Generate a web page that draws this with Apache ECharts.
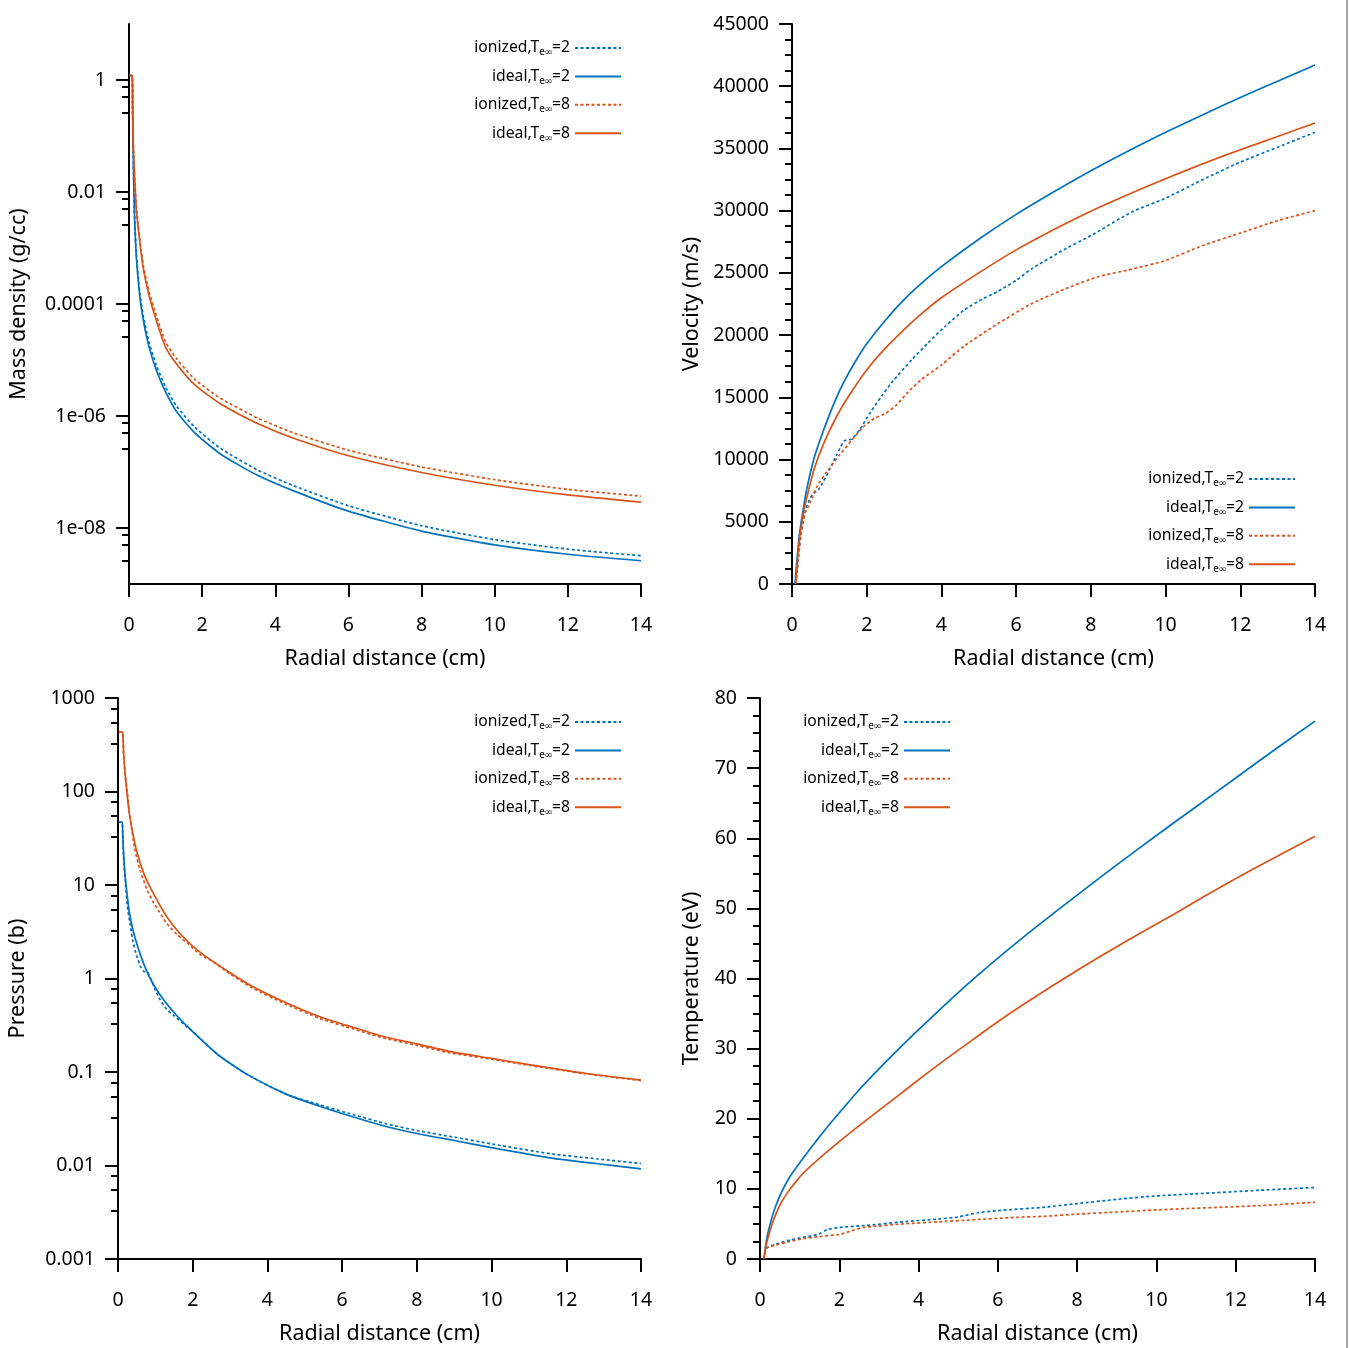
<!DOCTYPE html>
<html><head><meta charset="utf-8">
<script src="https://cdn.jsdelivr.net/npm/echarts@6/dist/echarts.min.js"></script>
<style>html,body{margin:0;padding:0;background:#fff}#c{width:1349px;height:1348px}</style>
</head><body><div id="c"></div><script>
const FONT = 'Noto Sans';
const C_BLUE = '#0072bd', C_ORANGE = '#d95319';
const seriesNames = ['ionized,Te∞=2', 'ideal,Te∞=2', 'ionized,Te∞=8', 'ideal,Te∞=8'];
const legendParts = [['ionized,T', 'e∞', '=2'], ['ideal,T', 'e∞', '=2'], ['ionized,T', 'e∞', '=8'], ['ideal,T', 'e∞', '=8']];
const xAxisTitle = 'Radial distance (cm)';
const yTitles = ['Mass density (g/cc)', 'Velocity (m/s)', 'Pressure (b)', 'Temperature (eV)'];

const densityTickValues = [1e-8, 1e-6, 1e-4, 1e-2, 1];
const densityTickLabels = ['1e-08', '1e-06', '0.0001', '0.01', '1'];
const pressureTickValues = [0.001, 0.01, 0.1, 1, 10, 100, 1000];
const pressureTickLabels = ['0.001', '0.01', '0.1', '1', '10', '100', '1000'];

// Mass density (g/cc)
const densityIonized2 = [[0.02,1.2],[0.09,1.2],[0.1,0.25],[0.12,0.032],[0.15,4.4e-3],[0.2,8e-4],[0.3,1.5e-4],[0.4,5.7e-5],[0.55,2.05e-5],[0.75,8e-6],[1,3.3e-6],[1.3,1.5e-6],[1.8,6.3e-7],[2.5,2.65e-7],[3.5,1.1e-7],[4.5,5.7e-8],[6,2.5e-8],[8,1.1e-8],[10,6.2e-9],[12,4.2e-9],[14,3.2e-9]];
const densityIdeal2 = [[0.02,1.2],[0.09,1.2],[0.1,0.25],[0.12,0.03],[0.15,4e-3],[0.2,7e-4],[0.3,1.3e-4],[0.4,4.8e-5],[0.55,1.7e-5],[0.75,6.5e-6],[1,2.7e-6],[1.3,1.2e-6],[1.8,5e-7],[2.5,2.1e-7],[3.5,8.8e-8],[4.5,4.6e-8],[6,2e-8],[8,8.8e-9],[10,5e-9],[12,3.4e-9],[14,2.6e-9]];
const densityIonized8 = [[0.02,1.2],[0.09,1.2],[0.1,0.3],[0.12,0.065],[0.15,0.022],[0.2,5.6e-3],[0.3,1.35e-3],[0.4,4.6e-4],[0.55,1.65e-4],[0.75,6.1e-5],[1,2.1e-5],[1.3,1.06e-5],[1.8,4.5e-6],[2.5,2.07e-6],[3.5,9.3e-7],[4.5,5e-7],[6,2.45e-7],[8,1.23e-7],[10,7.3e-8],[12,4.9e-8],[14,3.7e-8]];
const densityIdeal8 = [[0.02,1.2],[0.09,1.2],[0.1,0.3],[0.12,0.06],[0.15,0.02],[0.2,5e-3],[0.3,1.2e-3],[0.4,4e-4],[0.55,1.4e-4],[0.75,5e-5],[1,1.7e-5],[1.3,8.5e-6],[1.8,3.6e-6],[2.5,1.65e-6],[3.5,7.4e-7],[4.5,4e-7],[6,1.95e-7],[8,9.8e-8],[10,5.8e-8],[12,3.9e-8],[14,2.9e-8]];

// Velocity (m/s)
const velocityIonized2 = [[0.1,0],[0.15,1500],[0.25,4200],[0.4,6300],[0.55,7200],[0.7,7550],[0.85,8300],[1.0,9150],[1.2,10400],[1.4,11500],[1.6,11650],[1.8,12350],[2.1,13800],[2.4,15100],[2.7,16300],[3.2,18000],[3.65,19400],[4.1,20700],[4.6,22000],[5.1,22900],[5.5,23500],[6,24400],[6.4,25300],[7.3,26900],[8,28000],[9.1,29900],[10,31000],[11,32500],[12,33900],[13,35100],[14,36300]];
const velocityIdeal2 = [[0.08,0],[0.12,1500],[0.2,4000],[0.3,6000],[0.4,7700],[0.6,10200],[0.85,12400],[1.15,14700],[1.4,16300],[1.7,17900],[2,19300],[2.5,21200],[3,22850],[3.5,24250],[4,25500],[5,27700],[6,29700],[7,31500],[8,33200],[9,34800],[10,36300],[11,37700],[12,39100],[13,40400],[14,41700]];
const velocityIonized8 = [[0.1,0],[0.15,1500],[0.25,4300],[0.35,5700],[0.48,6500],[0.66,7800],[0.93,9000],[1.28,10400],[1.6,11550],[1.9,12600],[2.2,13300],[2.5,13700],[2.8,14400],[3.1,15400],[3.45,16400],[4,17600],[4.6,19100],[5.5,20900],[6.4,22500],[7.3,23700],[8.2,24700],[9.1,25300],[10,26000],[11,27200],[12,28200],[13,29200],[14,30000]];
const velocityIdeal8 = [[0.1,0],[0.14,1600],[0.2,3600],[0.3,5600],[0.4,7000],[0.6,9300],[0.85,11300],[1.2,13500],[1.55,15250],[2,17200],[2.5,18950],[3,20450],[3.5,21800],[4,23000],[5,25000],[6,26850],[7,28470],[8,29960],[9,31300],[10,32570],[11,33770],[12,34900],[13,35960],[14,37050]];

// Pressure (b)
const pressureIonized2 = [[0.02,47],[0.11,47],[0.13,30],[0.16,17],[0.19,12],[0.25,6],[0.32,3.9],[0.4,2.5],[0.5,1.75],[0.6,1.35],[0.68,1.2],[0.8,1.15],[0.9,0.95],[1.0,0.75],[1.12,0.6],[1.3,0.47],[1.5,0.4],[1.8,0.315],[2,0.27],[2.7,0.15],[3.5,0.092],[4.5,0.058],[5.4,0.0445],[6.3,0.035],[7.2,0.0278],[8,0.0237],[9,0.0201],[10,0.017],[11.6,0.0133],[12.8,0.0118],[14,0.0105]];
const pressureIdeal2 = [[0.02,47],[0.11,47],[0.13,32],[0.16,18],[0.2,11.5],[0.25,7.5],[0.3,5.2],[0.4,3.3],[0.55,2.05],[0.7,1.4],[0.85,1.02],[1.05,0.74],[1.3,0.54],[1.6,0.39],[2,0.27],[2.7,0.15],[3.5,0.092],[4.5,0.058],[5.4,0.043],[6.3,0.033],[7.2,0.026],[8,0.022],[9,0.0185],[10,0.0155],[11.6,0.012],[12.8,0.0105],[14,0.0092]];
const pressureIonized8 = [[0.02,435],[0.12,430],[0.15,240],[0.2,140],[0.25,100],[0.3,60],[0.37,39],[0.45,24],[0.6,14],[0.8,8.5],[0.95,6.5],[1.1,5.2],[1.3,3.9],[1.6,2.9],[1.85,2.4],[2.2,1.8],[2.5,1.55],[3,1.12],[3.6,0.79],[4.5,0.53],[5.4,0.375],[6.3,0.288],[7.1,0.232],[8,0.193],[8.9,0.16],[10,0.137],[11,0.118],[12.5,0.096],[14,0.081]];
const pressureIdeal8 = [[0.02,435],[0.12,430],[0.15,260],[0.2,140],[0.3,60],[0.4,35],[0.5,23],[0.7,13],[0.9,8.8],[1.3,4.6],[1.7,2.9],[2.2,1.9],[3,1.15],[3.6,0.82],[4.5,0.55],[5.4,0.39],[6.3,0.3],[7.1,0.24],[8,0.2],[8.9,0.165],[10,0.14],[11,0.12],[12.5,0.097],[14,0.082]];

// Temperature (eV)
const temperatureIonized2 = [[0.1,0],[0.15,1.5],[0.4,2.1],[0.75,2.7],[1.0,3.0],[1.3,3.3],[1.5,3.6],[1.7,4.2],[2.0,4.5],[2.7,4.8],[3.6,5.3],[4.5,5.7],[5.0,6.0],[5.5,6.6],[6.0,6.9],[7.2,7.4],[8,7.9],[9,8.5],[10,9.0],[11,9.3],[12.6,9.8],[14,10.2]];
const temperatureIdeal2 = [[0.1,0],[0.15,2.2],[0.2,3.7],[0.3,5.9],[0.4,7.6],[0.55,9.6],[0.75,11.7],[1.04,14.0],[1.4,16.7],[1.71,18.9],[2.1,21.5],[2.48,24.0],[3,27.1],[3.33,29.0],[4,32.7],[5,38],[6,42.9],[7,47.5],[8,51.9],[9,56.2],[10,60.4],[11,64.5],[12,68.6],[13,72.7],[14,76.7]];
const temperatureIonized8 = [[0.1,0],[0.15,1.5],[0.4,2.0],[0.75,2.5],[1.1,2.9],[1.5,3.2],[2.0,3.5],[2.3,4.0],[2.6,4.5],[3.6,5.0],[4.5,5.3],[5.4,5.6],[6.3,5.9],[7.2,6.1],[8,6.4],[9,6.7],[10,7.0],[10.8,7.2],[12.6,7.6],[14,8.1]];
const temperatureIdeal8 = [[0.1,0],[0.15,1.8],[0.2,3.0],[0.3,4.9],[0.4,6.4],[0.54,8.1],[0.7,9.5],[0.9,11.0],[1.1,12.3],[1.35,13.6],[1.8,15.8],[2.43,18.7],[3,21.2],[3.51,23.4],[4.1,26.0],[4.69,28.5],[5.3,31.0],[5.99,33.8],[6.7,36.5],[7.39,39],[8.1,41.5],[8.87,44.1],[9.6,46.5],[10.45,49.2],[11.2,51.7],[11.98,54.2],[13,57.3],[14,60.3]];

const panelData = [
  [densityIonized2, densityIdeal2, densityIonized8, densityIdeal8],
  [velocityIonized2, velocityIdeal2, velocityIonized8, velocityIdeal8],
  [pressureIonized2, pressureIdeal2, pressureIonized8, pressureIdeal8],
  [temperatureIonized2, temperatureIdeal2, temperatureIonized8, temperatureIdeal8]
];
const seriesColors = [C_BLUE, C_BLUE, C_ORANGE, C_ORANGE];
const seriesDashed = [true, false, true, false];

const grids = [
  {left: 129, top: 24, width: 512, height: 560},
  {left: 792, top: 24, width: 523, height: 560},
  {left: 118, top: 698, width: 523, height: 561},
  {left: 760, top: 698, width: 555, height: 561}
];
const yNameGaps = [99, 89, 89, 57];

const black = '#000';
function lookupLabel(values, labels) {
  return function (v) {
    let best = 0, bd = Infinity;
    for (let i = 0; i < values.length; i++) {
      const d = Math.abs(Math.log10(v) - Math.log10(values[i]));
      if (d < bd) { bd = d; best = i; }
    }
    return bd < 0.01 ? labels[best] : '';
  };
}
function plainNumber(v) { return String(Math.round(v)); }
function xAxis(gi) {
  return {
    type: 'value', gridIndex: gi, min: 0, max: 14, interval: 2,
    name: xAxisTitle, nameLocation: 'middle', nameGap: 64,
    nameTextStyle: {fontSize: 21.5, color: black, fontFamily: FONT},
    axisLine: {show: true, onZero: false, lineStyle: {color: black, width: 2}},
    axisTick: {show: true, length: 13, lineStyle: {color: black, width: 2}},
    axisLabel: {margin: 31, fontSize: 19.5, color: black, fontFamily: FONT, formatter: plainNumber},
    splitLine: {show: false}
  };
}
function yAxisBase(gi) {
  return {
    gridIndex: gi,
    name: yTitles[gi], nameLocation: 'middle', nameGap: yNameGaps[gi],
    nameTextStyle: {fontSize: 21.5, color: black, fontFamily: FONT},
    axisLine: {show: true, onZero: false, lineStyle: {color: black, width: 2}},
    axisTick: {show: true, length: 13, lineStyle: {color: black, width: 2}},
    minorTick: {show: true, splitNumber: 4, length: 7, lineStyle: {color: black, width: 2}},
    axisLabel: {margin: 23, fontSize: 19.5, color: black, fontFamily: FONT, formatter: plainNumber},
    splitLine: {show: false}, minorSplitLine: {show: false}
  };
}
const yAxes = [
  Object.assign(yAxisBase(0), {type: 'log', logBase: 100, min: 1e-9, max: 10}),
  Object.assign(yAxisBase(1), {type: 'value', min: 0, max: 45000, interval: 5000}),
  Object.assign(yAxisBase(2), {type: 'log', logBase: 10, min: 0.001, max: 1000}),
  Object.assign(yAxisBase(3), {type: 'value', min: 0, max: 80, interval: 10})
];
yAxes[0].axisTick = Object.assign({}, yAxes[0].axisTick, {customValues: densityTickValues});
yAxes[0].axisLabel = Object.assign({}, yAxes[0].axisLabel, {customValues: densityTickValues, formatter: lookupLabel(densityTickValues, densityTickLabels)});
yAxes[2].axisLabel = Object.assign({}, yAxes[2].axisLabel, {formatter: lookupLabel(pressureTickValues, pressureTickLabels)});

const series = [];
for (let g = 0; g < 4; g++) {
  for (let s = 0; s < 4; s++) {
    series.push({
      type: 'line', name: seriesNames[s], xAxisIndex: g, yAxisIndex: g,
      data: panelData[g][s], symbol: 'none', showSymbol: false,
      smooth: 0.2,
      lineStyle: {color: seriesColors[s], width: 1.7, type: seriesDashed[s] ? [3, 2.5] : 'solid'},
      itemStyle: {color: seriesColors[s]},
      emphasis: {disabled: true}, z: 2 + s
    });
  }
}

const legendRich = {
  n: {fontSize: 15.7, fontFamily: FONT, color: black, align: 'right', lineHeight: 20},
  s: {fontSize: 10, fontFamily: FONT, color: black, align: 'right', padding: [9, 0, 0, 0]}
};
function legendFormatter(name) {
  const i = seriesNames.indexOf(name);
  const p = legendParts[i];
  return '{n|' + p[0] + '}{s|' + p[1] + '}{n|' + p[2] + '}';
}
const legendPos = [
  {right: 727, top: 40}, {right: 53, top: 471}, {right: 727, top: 714}, {right: 398, top: 714}
];
const legends = legendPos.map(function (p) {
  return Object.assign({
    orient: 'vertical', align: 'right', padding: 0, itemGap: 10.9,
    itemWidth: 46, itemHeight: 14, data: seriesNames, selectedMode: false,
    formatter: legendFormatter,
    itemStyle: {opacity: 0},
    textStyle: {width: 100, align: 'right', rich: legendRich, color: black, fontFamily: FONT}
  }, p);
});

const chart = echarts.init(document.getElementById('c'), null, {renderer: 'canvas'});
chart.setOption({
  backgroundColor: '#fff',
  animation: false,
  textStyle: {fontFamily: FONT},
  grid: grids,
  xAxis: [0, 1, 2, 3].map(xAxis),
  yAxis: yAxes,
  legend: legends,
  series: series,
  graphic: [{type: 'line', shape: {x1: 1347, y1: 0, x2: 1347, y2: 1348}, style: {stroke: '#a8a8a8', lineWidth: 2}, silent: true}]
});
</script></body></html>
